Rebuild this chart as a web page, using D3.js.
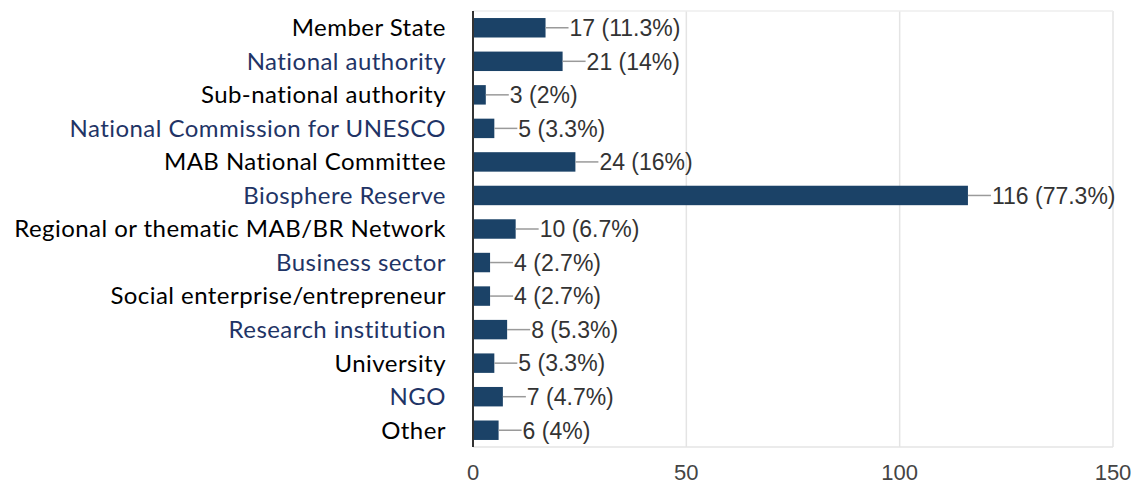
<!DOCTYPE html>
<html><head><meta charset="utf-8">
<script src="https://cdn.jsdelivr.net/npm/d3@7"></script>
<style>body{margin:0;background:#fff}</style>
</head><body>
<svg id="c" width="1139" height="484"></svg>
<script>
const categories = ["Member State","National authority","Sub-national authority","National Commission for UNESCO","MAB National Committee","Biosphere Reserve","Regional or thematic MAB/BR Network","Business sector","Social enterprise/entrepreneur","Research institution","University","NGO","Other"];
const counts = [17,21,3,5,24,116,10,4,4,8,5,7,6];
const percents = ["11.3%","14%","2%","3.3%","16%","77.3%","6.7%","2.7%","2.7%","5.3%","3.3%","4.7%","4%"];
const tickValues = [0,50,100,150];

(function(){
const svg = d3.select("#c");
const pLeft = 473, pRight = 1113, pTop = 11, pBottom = 447;
const x = d3.scaleLinear().domain([0,150]).range([pLeft,pRight]);
const y = d3.scaleBand().domain(categories).range([pTop,pBottom]).paddingInner(0.42).paddingOuter(0.21);

svg.append("g").selectAll("line").data(tickValues.slice(1)).join("line")
  .attr("x1",d=>x(d)).attr("x2",d=>x(d)).attr("y1",pTop).attr("y2",pBottom)
  .attr("stroke","#e4e4e4").attr("stroke-width",1.5);
svg.append("line").attr("x1",pLeft).attr("x2",pRight).attr("y1",pTop).attr("y2",pTop).attr("stroke","#eeeeee").attr("stroke-width",1.5);
svg.append("line").attr("x1",pLeft).attr("x2",pRight).attr("y1",pBottom).attr("y2",pBottom).attr("stroke","#e4e4e4").attr("stroke-width",1.5);

svg.append("g").selectAll("rect").data(categories).join("rect")
  .attr("x",x(0)).attr("y",d=>y(d)).attr("width",(d,i)=>x(counts[i])-x(0)).attr("height",y.bandwidth())
  .attr("fill","#1b4267");

svg.append("g").selectAll("line").data(categories).join("line")
  .attr("x1",(d,i)=>x(counts[i])).attr("x2",(d,i)=>x(counts[i])+23)
  .attr("y1",d=>y(d)+y.bandwidth()/2).attr("y2",d=>y(d)+y.bandwidth()/2)
  .attr("stroke","#9a9a9a").attr("stroke-width",1.5);

svg.append("g").selectAll("text").data(categories).join("text")
  .attr("x",(d,i)=>x(counts[i])+24).attr("y",d=>y(d)+y.bandwidth()/2)
  .attr("dy","0.36em")
  .attr("font-family","Liberation Sans, Arial, sans-serif").attr("font-size",23).attr("fill","#333")
  .text((d,i)=>`${counts[i]} (${percents[i]})`);

svg.append("line").attr("x1",pLeft).attr("x2",pLeft).attr("y1",pTop).attr("y2",pBottom).attr("stroke","#333").attr("stroke-width",2);

svg.append("g").selectAll("text").data(categories).join("text")
  .attr("x",446).attr("y",d=>y(d)+y.bandwidth()/2).attr("dy","0.35em")
  .attr("text-anchor","end")
  .attr("font-family","Lato, sans-serif").attr("font-size",24).attr("letter-spacing","0.45px")
  .attr("fill",(d,i)=>i%2===0?"#000":"#1f3466")
  .text(d=>d);

svg.append("g").selectAll("text").data(tickValues).join("text")
  .attr("x",d=>x(d)).attr("y",472).attr("dy","0.36em").attr("text-anchor","middle")
  .attr("font-family","Liberation Sans, Arial, sans-serif").attr("font-size",22).attr("fill","#444")
  .text(d=>d);
})();
</script>
</body></html>
